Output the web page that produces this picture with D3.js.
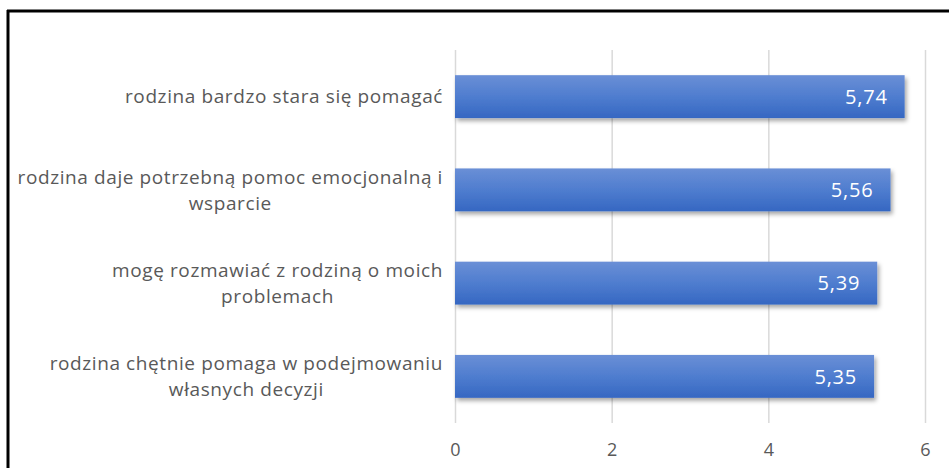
<!DOCTYPE html>
<html>
<head>
<meta charset="utf-8">
<script src="https://cdn.jsdelivr.net/npm/d3@7"></script>
<style>
  html, body { margin: 0; padding: 0; background: #fff; }
  svg { display: block; }
</style>
</head>
<body>
<svg id="chart" width="949" height="468"></svg>
<script>
// Categories (top to bottom) and their mean scores
const categories = [
  ["rodzina bardzo stara się pomagać"],
  ["rodzina daje potrzebną pomoc emocjonalną i", "wsparcie"],
  ["mogę rozmawiać z rodziną o moich", "problemach"],
  ["rodzina chętnie pomaga w podejmowaniu", "własnych decyzji"]
];
const values = [5.74, 5.56, 5.39, 5.35];
const valueLabels = ["5,74", "5,56", "5,39", "5,35"];
const xTicks = [0, 2, 4, 6];

const FONT = "'Open Sans', Lato, sans-serif";
const svg = d3.select("#chart");

const plot = { left: 455, right: 925, top: 50, bottom: 423 };

const x = d3.scaleLinear().domain([0, 6]).range([plot.left, plot.right]);
const y = d3.scaleBand().domain(d3.range(categories.length))
  .range([plot.top, plot.bottom]).paddingInner(0.54).paddingOuter(0.27);

// gradient + shadow definitions
const defs = svg.append("defs");
const grad = defs.append("linearGradient").attr("id", "barGrad")
  .attr("x1", 0).attr("y1", 0).attr("x2", 0).attr("y2", 1);
grad.append("stop").attr("offset", "0%").attr("stop-color", "#6a8fd6");
grad.append("stop").attr("offset", "50%").attr("stop-color", "#4f7dcf");
grad.append("stop").attr("offset", "100%").attr("stop-color", "#3567c2");

const shadow = defs.append("filter").attr("id", "shadow")
  .attr("x", "-5%").attr("y", "-20%").attr("width", "115%").attr("height", "160%");
shadow.append("feDropShadow").attr("dx", 2).attr("dy", 3).attr("stdDeviation", 2)
  .attr("flood-color", "#000").attr("flood-opacity", 0.35);

// frame
svg.append("line").attr("x1", 7).attr("x2", 949).attr("y1", 11).attr("y2", 11)
  .attr("stroke", "#000").attr("stroke-width", 3);
svg.append("line").attr("x1", 8).attr("x2", 8).attr("y1", 10).attr("y2", 468)
  .attr("stroke", "#000").attr("stroke-width", 3);

// vertical gridlines + x axis tick labels
const xAxis = d3.axisBottom(x).tickValues(xTicks).tickSize(-(plot.bottom - plot.top))
  .tickPadding(20).tickFormat(d3.format("d"));
const gx = svg.append("g").attr("transform", `translate(0,${plot.bottom})`).call(xAxis);
gx.select(".domain").remove();
gx.selectAll(".tick line").attr("stroke", "#d9d9d9").attr("stroke-width", 1.5);
gx.selectAll(".tick text").attr("fill", "#595959")
  .style("font-family", FONT).style("font-size", "18px");

// bars
svg.append("g").selectAll("rect").data(values).join("rect")
  .attr("x", x(0))
  .attr("y", (d, i) => y(i))
  .attr("width", d => x(d) - x(0))
  .attr("height", y.bandwidth())
  .attr("fill", "url(#barGrad)")
  .attr("filter", "url(#shadow)");

// value labels inside bar ends
svg.append("g").selectAll("text").data(values).join("text")
  .attr("x", d => x(d) - 17)
  .attr("y", (d, i) => y(i) + y.bandwidth() / 2)
  .attr("dy", "0.36em")
  .attr("text-anchor", "end")
  .attr("fill", "#ffffff")
  .style("font-family", FONT).style("font-size", "20px")
  .style("letter-spacing", "0.8px")
  .text((d, i) => valueLabels[i]);

// category labels: each block right-aligned to the axis, lines centred within it
const labelRight = 443;
const lineH = 26;
const catG = svg.append("g");
categories.forEach((lines, i) => {
  const t = catG.append("text")
    .attr("fill", "#595959")
    .attr("text-anchor", "middle")
    .style("font-family", FONT).style("font-size", "19px")
    .style("letter-spacing", "0.6px");
  const cy = y(i) + y.bandwidth() / 2;
  const y0 = cy - (lines.length - 1) * lineH / 2;
  const spans = lines.map((s, k) => t.append("tspan")
    .attr("y", y0 + k * lineH).attr("dy", "0.35em").text(s));
  const w = d3.max(spans, sp => sp.node().getComputedTextLength());
  spans.forEach(sp => sp.attr("x", labelRight - w / 2));
});
</script>
</body>
</html>
